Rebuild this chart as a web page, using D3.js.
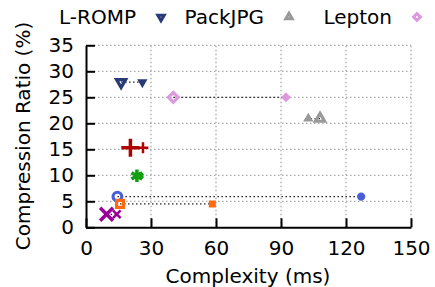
<!DOCTYPE html>
<html>
<head>
<meta charset="utf-8">
<script src="https://cdn.jsdelivr.net/npm/d3@7"></script>
<style>
  body { margin: 0; background: #fff; }
  svg { font-family: "DejaVu Sans", sans-serif; }
</style>
</head>
<body>
<div id="chart"></div>
<script>
// series, in plotting order (only the first three have legend entries)
var legendNames = ["L-ROMP", "PackJPG", "Lepton"];
var bigX   = [16.2, 108.0, 40.3, 20.5, 23.5, 14.5, 15.7, 9.5];
var bigY   = [27.9, 20.9, 25.0, 15.3, 9.9, 5.9, 4.5, 2.5];
var smallX = [26.0, 102.6, 92.3, 26.3, 25.0, 127.0, 58.3, 14.2];
var smallY = [27.9, 20.9, 25.0, 15.3, 9.9, 5.9, 4.5, 2.5];
var xTicks = [0, 30, 60, 90, 120, 150];
var yTicks = [0, 5, 10, 15, 20, 25, 30, 35];

var colors = ["#283a78", "#999999", "#dd99dd", "#b00000", "#11a011", "#4a5ed6", "#ff6a10", "#9a009a"];
var shapes = ["tridown", "triup", "diamond", "plus", "star", "circle", "square", "times"];

var W = 435, H = 287;
var svg = d3.select("#chart").append("svg")
  .attr("width", W).attr("height", H);

var x = d3.scaleLinear().domain([0, 150]).range([86, 411]);
var y = d3.scaleLinear().domain([0, 35]).range([227.3, 45.3]);

// grid
svg.append("g").selectAll("line").data(xTicks.slice(1)).enter().append("line")
  .attr("x1", function(d) { return x(d); }).attr("x2", function(d) { return x(d); })
  .attr("y1", y(0)).attr("y2", y(35))
  .style("stroke", "#aaa").style("stroke-width", 1.3).style("stroke-dasharray", "1.5,2.5");
svg.append("g").selectAll("line").data(yTicks.slice(1)).enter().append("line")
  .attr("x1", x(0)).attr("x2", x(150))
  .attr("y1", function(d) { return y(d); }).attr("y2", function(d) { return y(d); })
  .style("stroke", "#aaa").style("stroke-width", 1.3).style("stroke-dasharray", "1.5,2.5");

// axes
var xAxis = svg.append("g").attr("transform", "translate(0," + y(0) + ")")
  .call(d3.axisBottom(x).tickValues(xTicks).tickSizeInner(-9).tickSizeOuter(0).tickPadding(14));
var yAxis = svg.append("g").attr("transform", "translate(" + x(0) + ",0)")
  .call(d3.axisLeft(y).tickValues(yTicks).tickSizeInner(-9).tickSizeOuter(0).tickPadding(12));
[xAxis, yAxis].forEach(function(a) {
  a.select(".domain").style("stroke", "#000").style("stroke-width", 2);
  a.selectAll(".tick line").style("stroke", "#000").style("stroke-width", 2);
  a.selectAll("text").style("font-size", "20px").style("font-family", "DejaVu Sans").style("fill", "#000");
});

svg.append("text").attr("x", 248).attr("y", 283).attr("text-anchor", "middle")
  .style("font-size", "20px").text("Complexity (ms)");
svg.append("text").attr("transform", "translate(30,136) rotate(-90)").attr("text-anchor", "middle")
  .style("font-size", "20px").text("Compression Ratio (%)");

function symbolPath(shape, size) {
  var t = {
    tridown: d3.symbolTriangle2, triup: d3.symbolTriangle2, diamond: d3.symbolSquare2,
    plus: d3.symbolPlus, star: d3.symbolAsterisk, circle: d3.symbolCircle,
    square: d3.symbolSquare2, times: d3.symbolTimes
  }[shape];
  return d3.symbol().type(t).size(size)();
}
function rot(shape) {
  if (shape === "tridown") return " rotate(180)";
  if (shape === "diamond") return " rotate(45)";
  return "";
}
var strokeShape = /plus|star|times/;

// dotted connectors
svg.append("g").selectAll("line").data(bigX).enter().append("line")
  .attr("x1", function(d, i) { return x(bigX[i]); })
  .attr("x2", function(d, i) { return x(smallX[i]); })
  .attr("y1", function(d, i) { return y(bigY[i]); })
  .attr("y2", function(d, i) { return y(smallY[i]); })
  .style("stroke", "#222").style("stroke-width", 1.2).style("stroke-dasharray", "1.5,2.5");

// big markers (open, thick outline)
svg.append("g").selectAll("path").data(bigX).enter().append("path")
  .attr("transform", function(d, i) { return "translate(" + x(bigX[i]) + "," + y(bigY[i]) + ")" + rot(shapes[i]); })
  .attr("d", function(d, i) { return symbolPath(shapes[i], strokeShape.test(shapes[i]) ? 110 : 60); })
  .style("fill", "none")
  .style("stroke", function(d, i) { return colors[i]; })
  .style("stroke-width", function(d, i) { return strokeShape.test(shapes[i]) ? 3.5 : 3.2; });

// small markers (solid)
svg.append("g").selectAll("path").data(smallX).enter().append("path")
  .attr("transform", function(d, i) { return "translate(" + x(smallX[i]) + "," + y(smallY[i]) + ")" + rot(shapes[i]); })
  .attr("d", function(d, i) { return symbolPath(shapes[i], strokeShape.test(shapes[i]) ? 40 : 26); })
  .style("fill", function(d, i) { return strokeShape.test(shapes[i]) ? "none" : colors[i]; })
  .style("stroke", function(d, i) { return colors[i]; })
  .style("stroke-width", 2.5);

// legend
var leg = svg.append("g").selectAll("g").data(legendNames).enter().append("g")
  .attr("transform", function(d, i) { return "translate(" + (136 + i * 128) + ",17)"; });
leg.append("text").attr("text-anchor", "end").attr("dy", "0.35em")
  .style("font-size", "20px").text(function(d) { return d; });
leg.append("path")
  .attr("transform", function(d, i) { return "translate(25,0)" + rot(shapes[i]); })
  .attr("d", function(d, i) { return symbolPath(shapes[i], 30); })
  .style("fill", "none")
  .style("stroke", function(d, i) { return colors[i]; })
  .style("stroke-width", 3);
</script>
</body>
</html>
